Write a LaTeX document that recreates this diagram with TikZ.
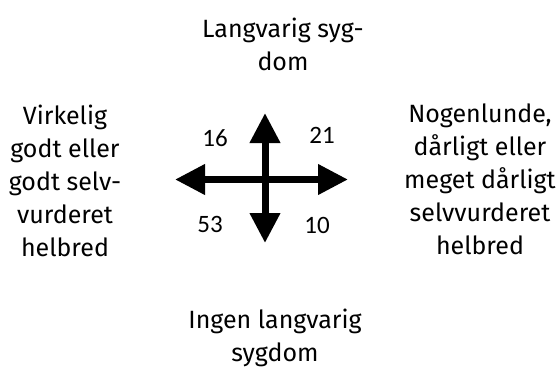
\documentclass[tikz,border=0pt]{standalone}
\usepackage{fontspec}
\setmainfont{Fira Sans}
\newfontfamily\numfont{Carlito}
\usetikzlibrary{arrows.meta}

\begin{document}
\begin{tikzpicture}[x=1pt,y=-1pt,
        lbl/.style={align=center,font=\fontsize{25}{33}\selectfont,inner sep=0pt},
        num/.style={font=\numfont\fontsize{25}{30}\selectfont,inner sep=0pt},
        axis/.style={line width=7pt,{Triangle[length=30pt,width=29pt]}-{Triangle[length=30pt,width=29pt]}}]
        \useasboundingbox (0,0) rectangle (558,367);

        \node[lbl] (sick) at (283,44) {Langvarig syg-\\dom};
        \node[lbl] (notsick) at (275,338) {Ingen langvarig\\sygdom};
        \node[lbl] (good) at (65,181) {Virkelig\\godt eller\\godt selv-\\vurderet\\helbred};
        \node[lbl] (bad) at (480,179) {Nogenlunde,\\dårligt eller\\meget dårligt\\selvvurderet\\helbred};

        \node[num] (n16) at (215,138) {16};
        \node[num] (n21) at (322,135) {21};
        \node[num] (n53) at (210,224) {53};
        \node[num] (n10) at (317,225) {10};

        \coordinate (west) at (175,179.5);
        \coordinate (east) at (348,179.5);
        \coordinate (north) at (265,113);
        \coordinate (south) at (265,243);

        \draw[axis] (west) -- (east);
        \draw[axis] (north) -- (south);
\end{tikzpicture}
\end{document}
